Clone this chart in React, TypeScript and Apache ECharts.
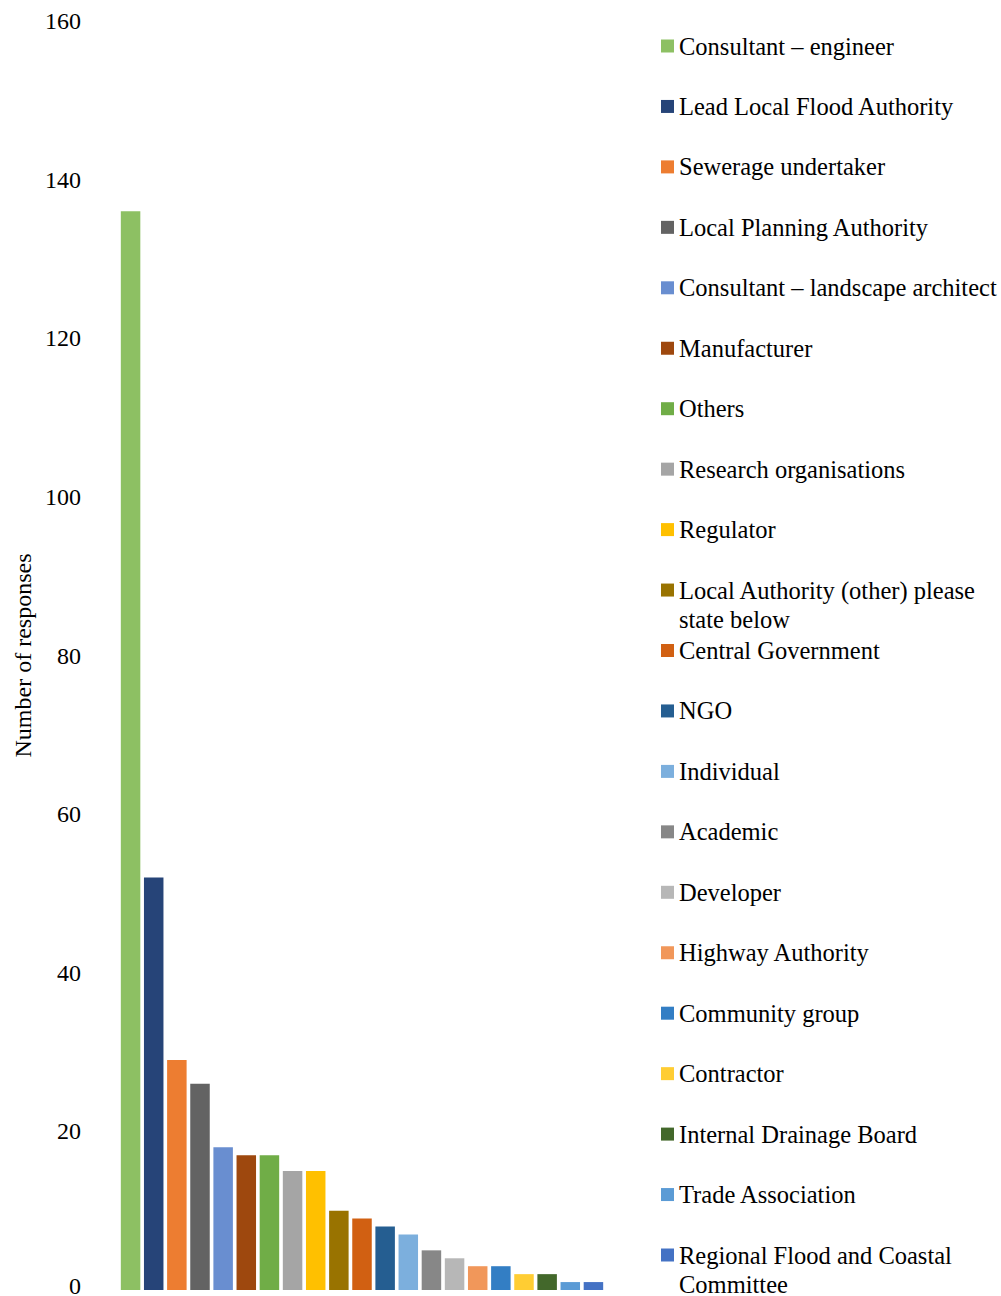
import React, { useEffect, useRef } from 'react';
import * as echarts from 'echarts';

const categories: string[] = [
  'Consultant – engineer',
  'Lead Local Flood Authority',
  'Sewerage undertaker',
  'Local Planning Authority',
  'Consultant – landscape architect',
  'Manufacturer',
  'Others',
  'Research organisations',
  'Regulator',
  'Local Authority (other) please\nstate below',
  'Central Government',
  'NGO',
  'Individual',
  'Academic',
  'Developer',
  'Highway Authority',
  'Community group',
  'Contractor',
  'Internal Drainage Board',
  'Trade Association',
  'Regional Flood and Coastal\nCommittee',
];

const values: number[] = [136, 52, 29, 26, 18, 17, 17, 15, 15, 10, 9, 8, 7, 5, 4, 3, 3, 2, 2, 1, 1];

const colors: string[] = [
  '#8DC063', '#264478', '#ED7D31', '#636363', '#698ED0', '#9E480E', '#70AD47',
  '#A5A5A5', '#FFC000', '#997300', '#D16012', '#255E91', '#7CAFDD', '#878787',
  '#B7B7B7', '#F1975A', '#337EC4', '#FFCD33', '#43682B', '#5B9BD5', '#4472C4',
];

const yMin = 0;
const yMax = 160;
const yInterval = 20;
const yAxisTitle = 'Number of responses';

export default function App() {
  const ref = useRef<HTMLDivElement>(null);

  useEffect(() => {
    document.body.style.margin = '0';
    if (!ref.current) return;
    const chart = echarts.init(ref.current, null, { renderer: 'svg' });
    const font = "'Liberation Serif', 'Times New Roman', serif";
    const legendFirst = 46;
    const legendStep = 60.45;
    const lineH = 29;

    const series = categories.map((name, i) => ({
      type: 'bar',
      name,
      stack: 'all',
      barWidth: 19.5,
      itemStyle: { color: colors[i] },
      data: categories.map((_, j) => (j === i ? values[i] : null)),
    }));

    const legends = categories.map((name, i) => {
      const wrapped = name.includes('\n');
      const center = legendFirst + i * legendStep;
      const top = wrapped ? center - 1.5 * lineH : center - lineH / 2;
      return {
        data: [name],
        orient: 'vertical',
        left: 661,
        top,
        padding: 0,
        itemWidth: 13,
        itemHeight: 13,
        icon: 'rect',
        selectedMode: false,
        formatter: (n: string) => (wrapped ? '\n' + n : n),
        textStyle: { fontFamily: font, fontSize: 24.5, color: '#000', lineHeight: lineH },
      };
    });

    chart.setOption({
      animation: false,
      backgroundColor: '#fff',
      grid: {
        left: 119,
        width: 486,
        top: 21,
        height: 1269,
        containLabel: false,
        outerBoundsMode: 'none',
      },
      xAxis: {
        type: 'category',
        data: categories,
        axisLine: { show: false },
        axisTick: { show: false },
        axisLabel: { show: false },
        splitLine: { show: false },
      },
      yAxis: {
        type: 'value',
        min: yMin,
        max: yMax,
        interval: yInterval,
        name: yAxisTitle,
        nameLocation: 'middle',
        nameGap: 84,
        nameTextStyle: { fontFamily: font, fontSize: 24, color: '#000' },
        axisLine: { show: false },
        axisTick: { show: false },
        splitLine: { show: false },
        axisLabel: {
          fontFamily: font,
          fontSize: 24,
          color: '#000',
          margin: 38,
          formatter: (v: number) => (v === yMin ? '{z|' + v + '}' : String(v)),
          rich: {
            z: { fontFamily: font, fontSize: 24, color: '#000', padding: [0, 0, 8, 0] },
          },
        },
      },
      legend: legends,
      series,
    } as any);

    return () => chart.dispose();
  }, []);

  return <div ref={ref} style={{ width: 1001, height: 1296 }} />;
}
